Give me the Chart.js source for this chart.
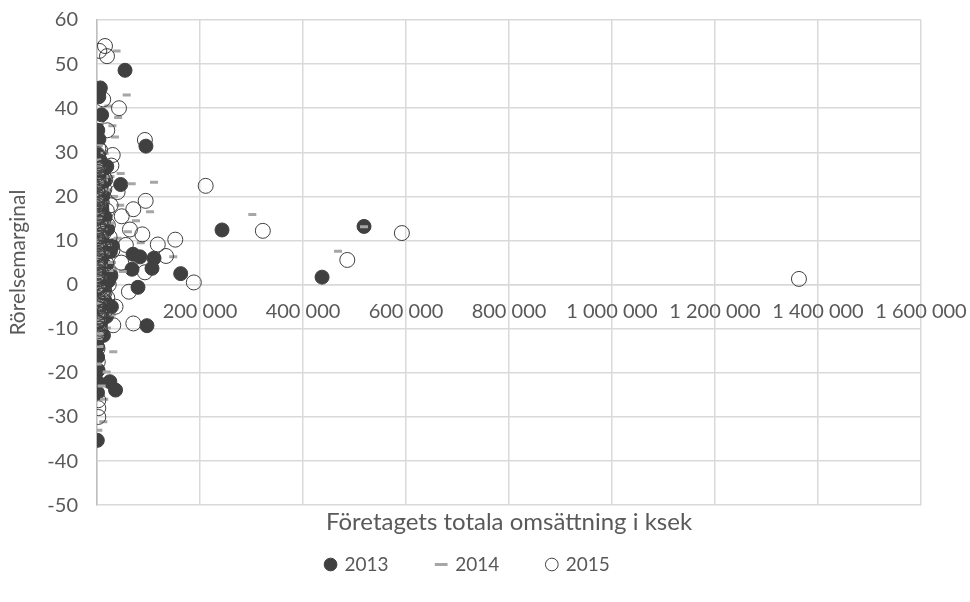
<!DOCTYPE html>
<html>
<head>
<meta charset="utf-8">
<script src="https://cdn.jsdelivr.net/npm/chart.js@4/dist/chart.umd.min.js"></script>
<style>
  html, body { margin: 0; padding: 0; background: #fff; }
  #wrap { width: 970px; height: 602px; }
</style>
</head>
<body>
<div id="wrap"><canvas id="scatter"></canvas></div>
<script>
// Series labels
const years = ["2013", "2014", "2015"];

// Axis ticks
const xTicks = [0, 200000, 400000, 600000, 800000, 1000000, 1200000, 1400000, 1600000];
const yTicks = [-50, -40, -30, -20, -10, 0, 10, 20, 30, 40, 50, 60];

// 2013 : omsättning (ksek) / rörelsemarginal (%)
const x2013 = [54400, 6500, 3500, 1500, 95000, 46000, 242750, 437000, 518500, 162500, 110700, 70000, 83500, 68000, 106800, 79600, 97000, 1500, 900, 1200, 2000, 800, 25000, 36000, 600, 1000,
  2000, 4500, 1200, 7800, 3300, 12000, 600, 5200, 9500, 2700, 15800, 1100, 6800, 20500, 3900, 8600, 400, 13500, 2300, 26000, 5700, 1600, 10800, 17500, 3100, 7200, 700, 22000, 4700, 11500, 1900, 8100, 15000, 2900, 6000, 900, 18500, 4000, 1400, 9800, 30000, 27000, 14500, 19000, 500, 3700, 9000, 7000, 28000, 12500,
  300, 1700, 4100, 800, 2600, 6400, 1300, 3500, 9100, 500, 2000, 5200, 1000, 7600, 2900, 400, 3800, 11200, 1600, 6000, 2200, 700, 4600, 8300, 1200, 3100, 13000, 600, 2400, 5600, 900, 10100, 1900, 3300, 7000, 200, 4400, 1500, 8800, 2700, 500, 6600, 1100, 3600, 14200, 800, 2100, 5000, 1400, 9400, 300, 4200, 1800, 7300, 2500, 1000, 5900, 3000, 12300, 600];
const y2013 = [48.6, 44.6, 42.6, 35.0, 31.4, 22.7, 12.4, 1.7, 13.2, 2.5, 6.0, 6.9, 6.3, 3.5, 3.7, -0.6, -9.3, -10.5, -14.1, -16.4, -19.4, -22.0, -22.0, -23.9, -35.3, -24.5,
  28.5, 26.0, 24.1, 22.0, 21.0, 20.2, 19.5, 18.3, 17.0, 16.1, 15.3, 14.4, 13.5, 12.6, 11.8, 10.9, 10.0, 9.2, 8.4, 7.5, 6.7, 5.8, 5.0, 4.1, 3.3, 2.4, 1.6, 0.8, 0.0, -0.9, -1.8, -2.7, -3.6, -4.5, -5.4, -6.3, -7.2, -8.1, -9.0, -3.0, 8.8, 2.0, 23.5, 26.8, 29.5, 33.0, 38.5, 28.0, -5.0, -11.5,
  27.2, 25.8, 24.6, 23.1, 21.9, 20.7, 19.8, 18.9, 17.6, 16.8, 15.7, 14.9, 13.8, 12.9, 11.9, 11.1, 10.3, 9.6, 8.9, 8.1, 7.3, 6.5, 5.7, 4.9, 4.2, 3.5, 2.8, 2.1, 1.3, 0.5, -0.3, -1.1, -1.9, -2.6, -3.4, -4.2, -5.0, -5.8, -6.6, -7.5, -8.4, -9.3, -10.2, -11.0, 26.2, 22.6, 18.2, 14.1, 9.9, 5.3, 1.0, -3.1, -7.9, 20.1, 12.2, 7.8, 16.3, 24.9, 3.9, -12.3];

// 2014
const x2014 = [38000, 57700, 41000, 35000, 110700, 67400, 46000, 75700, 301600, 468000, 518500, 148000, 103000, 31600, 18800, 12200, 2500, 28500, 60000, 85000, 50000, 45000, 30000, 22000, 14000, 9000,
  1000, 3800, 7000, 1800, 11000, 4200, 16500, 800, 6300, 2600, 9200, 13800, 500, 5000, 21000, 3000, 7900, 1300, 12700, 24000, 4400, 900, 9900, 2100, 16000, 5800, 1500, 11300, 3400, 700, 19500, 6700, 2800, 8400, 14800, 3600, 25500, 20000, 10500, 17000, 4800, 1100, 26000, 33000, 40000, 29000,
  900, 2300, 5400, 1200, 3700, 7800, 600, 2800, 10400, 1500, 4700, 800, 6300, 2000, 12600, 400, 3300, 8900, 1700, 5100, 1000, 2600, 7100, 300, 4000, 15400, 1400, 6000, 2200, 700, 9700, 3100, 1100, 5700, 2500, 13600, 500, 4300, 1900, 8200, 3000, 800, 6700, 1600, 11300, 2400, 400, 4900, 1300, 7500, 3500, 900, 10900, 2100, 5300, 600, 3900, 1800, 8600, 2900];
const y2014 = [53.0, 43.0, 37.9, 33.5, 23.2, 22.9, 25.2, 14.5, 15.9, 7.6, 13.1, 6.3, 16.5, -15.2, -19.8, -31.1, -33.0, -6.9, 12.0, 9.5, 3.0, 18.0, 36.0, 40.5, -26.0, -23.0,
  27.6, 25.2, 23.3, 22.1, 20.9, 19.7, 18.6, 17.4, 16.2, 15.0, 13.9, 12.7, 11.5, 10.3, 9.1, 8.0, 6.8, 5.6, 4.4, 3.2, 2.1, 0.9, -0.3, -1.5, -2.7, -3.9, -5.1, -6.2, -7.4, -8.6, -9.8, -11.0, -12.2, 26.3, 29.8, 31.5, 14.0, 21.5, 1.5, 7.2, -14.0, -18.0, 24.5, 20.0, 10.5, 5.0,
  28.3, 26.9, 25.5, 24.0, 22.8, 21.4, 20.2, 19.1, 18.0, 16.9, 15.8, 14.6, 13.3, 12.2, 11.0, 9.8, 8.6, 7.6, 6.3, 5.2, 4.0, 2.8, 1.8, 0.4, -0.9, -2.0, -3.2, -4.4, -5.6, -6.8, -8.0, -9.2, -10.4, -11.6, 27.0, 23.7, 20.6, 17.7, 14.8, 11.7, 8.9, 6.0, 3.4, 0.2, -2.5, -5.3, -8.2, 25.1, 19.5, 13.1, 7.1, 1.1, -4.0, 22.4, 16.0, 10.1, 4.6, -1.0, -6.9, 18.7];

// 2015
const x2015 = [4500, 15500, 19400, 42700, 2500, 2500, 93000, 2500, 30500, 94500, 70500, 64000, 88000, 118000, 152000, 134000, 188000, 62000, 211000, 322000, 486000, 592000, 1363000, 70500, 31600, 2500, 2500, 2500, 93000, 36000, 56000, 48000, 40000, 28000, 47000, 20000, 12000,
  1400, 5500, 2300, 9800, 600, 14200, 3700, 7400, 1000, 19000, 4900, 11600, 2000, 8700, 24500, 3200, 13000, 700, 6200, 17800, 2600, 9300, 1200, 22800, 4300, 11000, 1700, 7600, 15300, 3500, 800, 5600, 2100, 1000, 1500, 6000, 10200, 16000, 26500, 21000, 30000, 25000, 13500, 20000, 9000,
  500, 1900, 4300, 900, 3000, 6900, 1400, 2500, 9200, 700, 3900, 1100, 5800, 2100, 11900, 300, 3400, 8100, 1600, 4800, 1000, 2700, 7300, 600, 4100, 14600, 1300, 5400, 2300, 800, 10400, 3200, 1200, 6200, 2600, 13200, 400, 4500, 1700, 8600, 3600, 900, 7000, 1500, 12100, 2000, 500, 5000, 1100, 7700, 3100, 700, 9900, 2200, 5600, 1000, 3700, 1800, 8900, 2800];
const y2015 = [53.0, 54.1, 51.8, 40.0, 43.7, 38.0, 32.8, 30.9, 29.4, 19.0, 17.1, 12.5, 11.4, 9.1, 10.2, 6.5, 0.5, -1.6, 22.4, 12.2, 5.6, 11.7, 1.3, -8.8, -9.2, -26.2, -28.0, -30.0, 2.8, -5.0, 9.0, 15.5, 21.0, 27.0, 5.0, 35.0, 42.0,
  28.9, 27.1, 25.5, 24.0, 22.8, 21.6, 20.4, 19.2, 18.0, 16.8, 15.6, 14.4, 13.2, 12.0, 10.8, 9.6, 8.4, 7.2, 6.0, 4.8, 3.6, 2.4, 1.2, 0.0, -1.2, -2.4, -3.6, -4.8, -6.0, -7.2, -8.4, -10.0, -12.0, -14.5, -17.5, 30.5, 26.5, 23.8, 18.0, 13.5, 7.8, 2.5, -1.0, -3.0, -7.8,
  29.6, 28.0, 26.3, 25.0, 23.5, 22.2, 21.0, 19.8, 18.6, 17.5, 16.3, 15.1, 14.0, 12.8, 11.5, 10.4, 9.2, 8.0, 6.9, 5.5, 4.3, 3.0, 1.9, 0.6, -0.6, -1.8, -3.0, -4.2, -5.4, -6.6, -7.7, -9.0, -10.6, -11.3, 27.6, 24.4, 21.4, 18.3, 15.4, 12.4, 9.9, 6.6, 3.9, 1.5, -1.5, -4.9, -8.6, 26.0, 20.0, 13.9, 8.4, 2.1, -3.4, 23.1, 17.0, 10.6, 5.0, -0.4, -6.2, 19.4];

const pairs = (xs, ys) => xs.map((x, i) => ({ x: x, y: ys[i] }));

// "1 400 000" style
const fmt = (v) => String(v).replace(/\B(?=(\d{3})+(?!\d))/g, " ");

const textColor = "#595959";
const gridColor = "#d9d9d9";
const font = "Lato, 'Open Sans', sans-serif";

new Chart(document.getElementById("scatter"), {
  type: "scatter",
  data: {
    datasets: [
      {
        label: years[0],
        data: pairs(x2013, y2013),
        pointStyle: "circle",
        pointRadius: 7,
        backgroundColor: "#404040",
        borderColor: "#404040",
        borderWidth: 1,
        order: 3,
      },
      {
        label: years[1],
        data: pairs(x2014, y2014),
        pointStyle: "line",
        pointRadius: 4,
        backgroundColor: "#a6a6a6",
        borderColor: "#a6a6a6",
        borderWidth: 3,
        order: 2,
      },
      {
        label: years[2],
        data: pairs(x2015, y2015),
        pointStyle: "circle",
        pointRadius: 7.5,
        backgroundColor: "rgba(255,255,255,0)",
        borderColor: "#404040",
        borderWidth: 1,
        order: 1,
      },
    ],
  },
  options: {
    responsive: true,
    maintainAspectRatio: false,
    animation: false,
    events: [],
    layout: { padding: { left: 0, right: 0, top: 20, bottom: 18 } },
    scales: {
      x: {
        type: "linear",
        min: xTicks[0],
        max: xTicks[xTicks.length - 1],
        position: { y: 0 },
        afterBuildTicks: (axis) => { axis.ticks = xTicks.map((v) => ({ value: v })); },
        // room on the right for the last label, which hangs over the plot edge
        afterFit: (axis) => { axis.paddingLeft = 0; axis.paddingRight = 49; },
        ticks: {
          color: textColor,
          font: { family: font, size: 20 },
          padding: 15,
          maxRotation: 0,
          autoSkip: false,
          callback: (v) => (v === 0 ? "" : fmt(v)),
        },
        grid: { color: gridColor, lineWidth: 1.5, drawTicks: false },
        border: { color: gridColor, width: 1.5 },
      },
      xb: {
        type: "linear",
        axis: "x",
        position: "bottom",
        min: xTicks[0],
        max: xTicks[xTicks.length - 1],
        afterFit: (axis) => { axis.paddingLeft = 0; axis.paddingRight = 0; },
        ticks: { display: false },
        grid: { display: false, drawTicks: false },
        border: { display: false },
        title: {
          display: true,
          text: "Företagets totala omsättning i ksek",
          color: textColor,
          font: { family: font, size: 24 },
          padding: { top: 3, bottom: 4 },
        },
      },
      y: {
        min: yTicks[0],
        max: yTicks[yTicks.length - 1],
        afterBuildTicks: (axis) => { axis.ticks = yTicks.map((v) => ({ value: v })); },
        afterFit: (axis) => { axis.paddingTop = 0; axis.paddingBottom = 0; axis.width = 97; },
        ticks: {
          color: textColor,
          font: { family: font, size: 20 },
          padding: 19,
        },
        grid: { color: gridColor, lineWidth: 1.5, drawTicks: false },
        border: { color: "#bfbfbf", width: 1.5 },
        title: {
          display: true,
          text: "Rörelsemarginal",
          color: textColor,
          font: { family: font, size: 21 },
          padding: { top: 6, bottom: 0 },
        },
      },
    },
    plugins: {
      legend: {
        position: "bottom",
        labels: {
          usePointStyle: true,
          boxWidth: 9,
          boxHeight: 9,
          color: textColor,
          font: { family: font, size: 19 },
          padding: 14,
          sort: (a, b) => a.datasetIndex - b.datasetIndex,
          // wider gaps between the entries, as in the original
          generateLabels: (chart) =>
            Chart.defaults.plugins.legend.labels.generateLabels(chart).map((l) => {
              l.text = l.text + "       ";
              return l;
            }),
        },
      },
      tooltip: { enabled: false },
    },
  },
});
</script>
</body>
</html>
